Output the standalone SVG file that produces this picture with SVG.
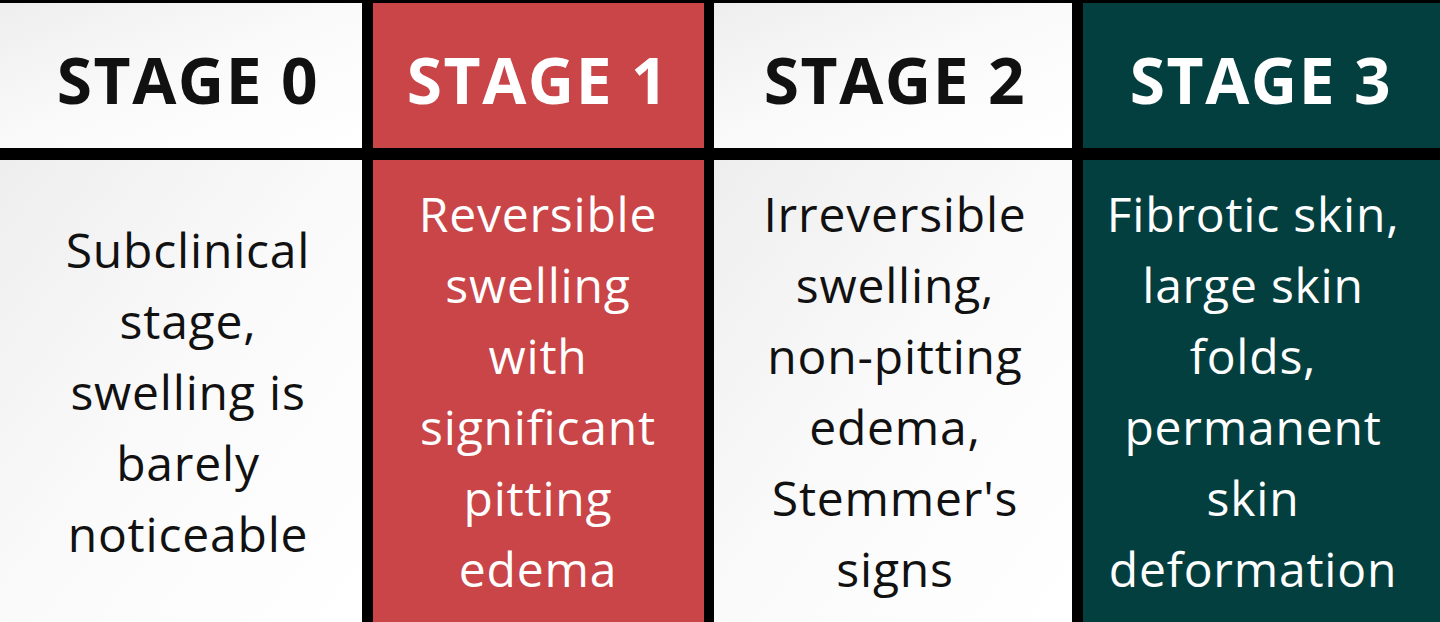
<svg xmlns="http://www.w3.org/2000/svg" width="1440" height="622" viewBox="0 0 1440 622">
<style>
.h{font-family:"Open Sans","Liberation Sans",sans-serif;font-weight:bold;font-size:64px;letter-spacing:1.5px;text-anchor:middle}
.b{font-family:"Open Sans","Liberation Sans",sans-serif;font-size:48px;letter-spacing:0.8px;text-anchor:middle}
.d{fill:#111}.w{fill:#fff}
</style>
<defs><linearGradient id="g" x1="0" y1="0" x2="1" y2="1"><stop offset="0" stop-color="#eeeeee"/><stop offset="0.5" stop-color="#fafafa"/><stop offset="1" stop-color="#ffffff"/></linearGradient></defs>
<rect width="1440" height="622" fill="#000"/>
<g id="stage0">
<rect x="0" y="3" width="362" height="145" fill="url(#g)"/>
<rect x="0" y="160" width="362" height="462" fill="url(#g)"/>
<text class="h d" x="188" y="104">STAGE 0</text>
<text class="b d" x="188" y="268">Subclinical</text>
<text class="b d" x="188" y="339">stage,</text>
<text class="b d" x="188" y="410">swelling is</text>
<text class="b d" x="188" y="481">barely</text>
<text class="b d" x="188" y="552">noticeable</text>
</g>
<g id="stage1">
<rect x="373" y="3" width="331" height="145" fill="#C94548"/>
<rect x="373" y="160" width="331" height="462" fill="#C94548"/>
<text class="h w" x="538" y="104">STAGE 1</text>
<text class="b w" x="538" y="232">Reversible</text>
<text class="b w" x="538" y="303">swelling</text>
<text class="b w" x="538" y="374">with</text>
<text class="b w" x="538" y="445">significant</text>
<text class="b w" x="538" y="516">pitting</text>
<text class="b w" x="538" y="587">edema</text>
</g>
<g id="stage2">
<rect x="714" y="3" width="358" height="145" fill="url(#g)"/>
<rect x="714" y="160" width="358" height="462" fill="url(#g)"/>
<text class="h d" x="895" y="104">STAGE 2</text>
<text class="b d" x="895" y="232">Irreversible</text>
<text class="b d" x="895" y="303">swelling,</text>
<text class="b d" x="895" y="374">non-pitting</text>
<text class="b d" x="895" y="445">edema,</text>
<text class="b d" x="895" y="516">Stemmer's</text>
<text class="b d" x="895" y="587">signs</text>
</g>
<g id="stage3">
<rect x="1083" y="3" width="357" height="145" fill="#043F40"/>
<rect x="1083" y="160" width="357" height="462" fill="#043F40"/>
<text class="h w" x="1261" y="104">STAGE 3</text>
<text class="b w" x="1253" y="232">Fibrotic skin,</text>
<text class="b w" x="1253" y="303">large skin</text>
<text class="b w" x="1253" y="374">folds,</text>
<text class="b w" x="1253" y="445">permanent</text>
<text class="b w" x="1253" y="516">skin</text>
<text class="b w" x="1253" y="587">deformation</text>
</g>
<g id="connectors"/>
</svg>
